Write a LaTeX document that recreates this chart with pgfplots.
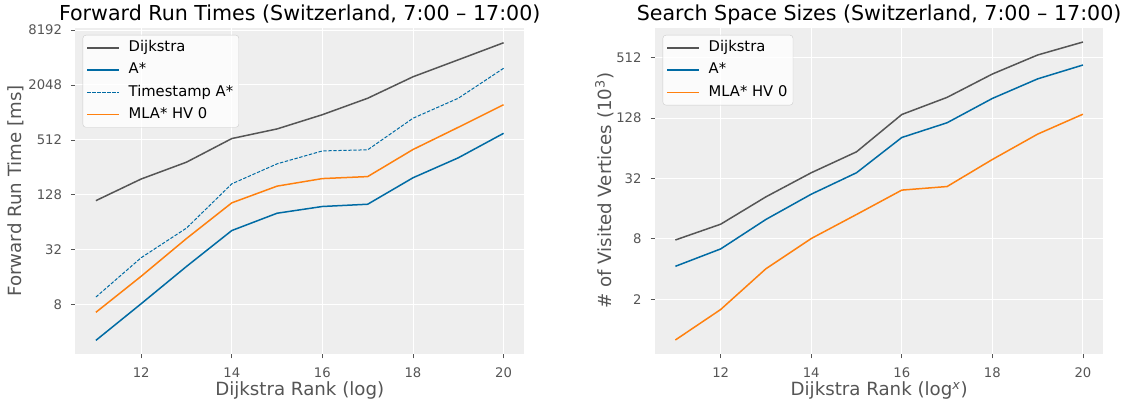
\documentclass[border=0pt]{standalone}
\usepackage{pgfplots}
\pgfplotsset{compat=1.18}
\usepackage{fontspec}
\setmainfont{DejaVu Sans}
\definecolor{bg}{HTML}{EEEEEE}
\definecolor{dij}{HTML}{555555}
\definecolor{astar}{HTML}{006BA4}
\definecolor{mla}{HTML}{FF800E}
\definecolor{lab}{HTML}{555555}
\begin{document}
\begin{tikzpicture}
\useasboundingbox (0,0) rectangle (1141pt,406pt);
\begin{axis}[
  scale only axis,
  width=448.5pt, height=326.3pt,
  at={(75.5pt,52pt)}, anchor=south west,
  ymode=log, log basis y=2,
  axis background/.style={fill=bg},
  axis line style={draw=none},
  grid=major,
  major grid style={white, line width=1pt},
  tick align=outside,
  major tick length=4.5pt,
  tick style={lab, line width=0.8pt},
  xtick pos=bottom, ytick pos=left,
  xmin=10.55, xmax=20.45,
  xtick={12,14,16,18,20},
  xticklabels={12,14,16,18,20},
  ticklabel style={font=\fontsize{13.2}{16}\selectfont, text=lab},
  xticklabel style={inner sep=0pt, anchor=north, yshift=-9.3pt},
  yticklabel style={inner sep=0pt, anchor=east, xshift=-8.8pt},
  ymin=2.305, ymax=8700,
  ytick={8,32,128,512,2048,8192},
  yticklabels={8,32,128,512,2048,8192},
  title={Forward Run Times (Switzerland, 7:00 – 17:00)},
  title style={font=\fontsize{20.6}{24}\selectfont, text=black, anchor=base, at={(axis description cs:0.5,1)}, yshift=1pt},
  xlabel={Dijkstra Rank (log)},
  xlabel style={font=\fontsize{18.2}{21}\selectfont, text=lab, anchor=base, at={(axis description cs:0.5,0)}, yshift=-41.7pt},
  ylabel={Forward Run Time [ms]},
  ylabel style={font=\fontsize{18.2}{21}\selectfont, text=lab, anchor=base, at={(axis description cs:0,0.5)}, yshift=53.9pt},
  legend cell align=left,
  legend image code/.code={\draw[#1] (0pt,0pt) -- (31.7pt,0pt);},
  legend style={at={(axis description cs:0,1)}, anchor=north west, xshift=7.2pt, yshift=-7.3pt,
    draw=black!20, fill=white, fill opacity=0.8, text opacity=1, draw opacity=1, rounded corners=3pt,
    font=\fontsize{14.75}{17}\selectfont, inner xsep=3.6pt, inner ysep=3.5pt, row sep=3.7pt, column sep=7pt,
    nodes={inner sep=2pt, text height=11pt, text depth=3.5pt}},
]
\addplot[dij, line width=1.5pt] coordinates {(11,110.6) (12,191) (13,292) (14,530) (15,676) (16,968) (17,1466) (18,2520) (19,3870) (20,5950)};
\addlegendentry{Dijkstra}
\addplot[astar, line width=1.5pt] coordinates {(11,3.25) (12,8.2) (13,21) (14,52) (15,80.5) (16,95.4) (17,101) (18,197) (19,326) (20,605)};
\addlegendentry{A*}
\addplot[astar, line width=1pt, dash pattern=on 3.4pt off 1.6pt] coordinates {(11,9.7) (12,26.2) (13,55.3) (14,169) (15,280) (16,388) (17,399) (18,885) (19,1466) (20,3125)};
\addlegendentry{Timestamp A*}
\addplot[mla, line width=1.5pt] coordinates {(11,6.6) (12,16.4) (13,42.5) (14,104.6) (15,159.5) (16,193) (17,203) (18,402) (19,704) (20,1245)};
\addlegendentry{MLA* HV 0}
\end{axis}
\begin{axis}[
  scale only axis,
  width=448.3pt, height=326.3pt,
  at={(655pt,52pt)}, anchor=south west,
  ymode=log, log basis y=2,
  axis background/.style={fill=bg},
  axis line style={draw=none},
  grid=major,
  major grid style={white, line width=1pt},
  tick align=outside,
  major tick length=4.5pt,
  tick style={lab, line width=0.8pt},
  xtick pos=bottom, ytick pos=left,
  xmin=10.55, xmax=20.45,
  xtick={12,14,16,18,20},
  xticklabels={12,14,16,18,20},
  ticklabel style={font=\fontsize{13.2}{16}\selectfont, text=lab},
  xticklabel style={inner sep=0pt, anchor=north, yshift=-9.3pt},
  yticklabel style={inner sep=0pt, anchor=east, xshift=-8.8pt},
  ymin=0.569, ymax=1020,
  ytick={2,8,32,128,512},
  yticklabels={2,8,32,128,512},
  title={Search Space Sizes (Switzerland, 7:00 – 17:00)},
  title style={font=\fontsize{20.6}{24}\selectfont, text=black, anchor=base, at={(axis description cs:0.5,1)}, yshift=1pt},
  xlabel={Dijkstra Rank (log\textsuperscript{\textit{x}})},
  xlabel style={font=\fontsize{18.2}{21}\selectfont, text=lab, anchor=base, at={(axis description cs:0.5,0)}, yshift=-41.7pt},
  ylabel={\# of Visited Vertices (10\textsuperscript{3})},
  ylabel style={font=\fontsize{18.2}{21}\selectfont, text=lab, anchor=base, at={(axis description cs:0,0.5)}, yshift=44pt},
  legend cell align=left,
  legend image code/.code={\draw[#1] (0pt,0pt) -- (31.7pt,0pt);},
  legend style={at={(axis description cs:0,1)}, anchor=north west, xshift=7.7pt, yshift=-7.3pt,
    draw=black!20, fill=white, fill opacity=0.8, text opacity=1, draw opacity=1, rounded corners=3pt,
    font=\fontsize{14.75}{17}\selectfont, inner xsep=3.6pt, inner ysep=3.5pt, row sep=3.7pt, column sep=7pt,
    nodes={inner sep=2pt, text height=11pt, text depth=3.5pt}},
]
\addplot[dij, line width=1.5pt] coordinates {(11,7.8) (12,11.2) (13,21) (14,36.5) (15,59) (16,139) (17,206) (18,352) (19,545) (20,734)};
\addlegendentry{Dijkstra}
\addplot[astar, line width=1.5pt] coordinates {(11,4.26) (12,6.35) (13,12.5) (14,22.3) (15,36.5) (16,82) (17,115) (18,201) (19,315) (20,433)};
\addlegendentry{A*}
\addplot[mla, line width=1.5pt] coordinates {(11,0.785) (12,1.58) (13,4.03) (14,8.06) (15,14) (16,24.5) (17,26.6) (18,49.5) (19,88.6) (20,140)};
\addlegendentry{MLA* HV 0}
\end{axis}
\end{tikzpicture}
\end{document}
